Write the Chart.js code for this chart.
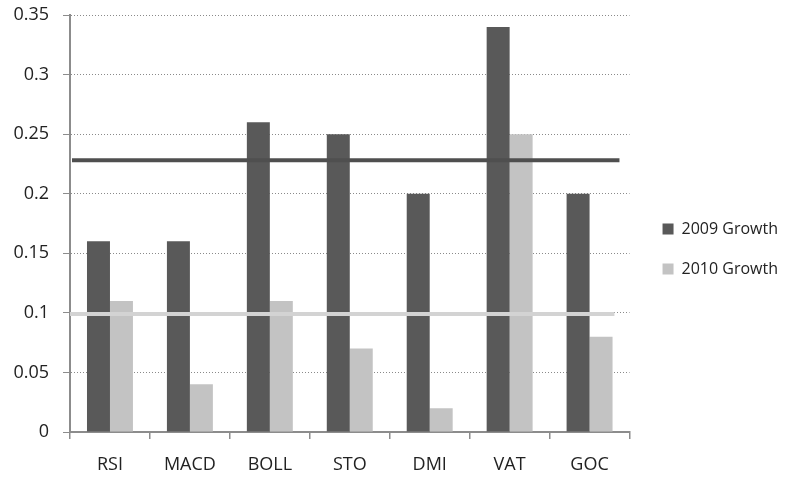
<!DOCTYPE html>
<html>
<head>
<meta charset="utf-8">
<script src="https://cdn.jsdelivr.net/npm/chart.js@4/dist/chart.umd.min.js"></script>
<style>
  html, body { margin: 0; padding: 0; background: #fff; }
  #wrap { width: 796px; height: 479px; }
</style>
</head>
<body>
<div id="wrap"><canvas id="chart" width="796" height="479"></canvas></div>
<script>
// Categories and series
var categories = ['RSI', 'MACD', 'BOLL', 'STO', 'DMI', 'VAT', 'GOC'];
var growth2009 = [0.16, 0.16, 0.26, 0.25, 0.20, 0.34, 0.20];
var growth2010 = [0.11, 0.04, 0.11, 0.07, 0.02, 0.25, 0.08];

// Horizontal reference levels (2009, 2010)
var refValues = [0.228, 0.099];

var yTicks = [0, 0.05, 0.1, 0.15, 0.2, 0.25, 0.3, 0.35];

var darkGray = '#595959';
var lightGray = '#c3c3c3';
var axisGray = '#8c8c8c';
var fontFamily = '"Open Sans", "Noto Sans", sans-serif';

/**
 * Draw the two horizontal level lines through the y scale
 */
var refLinePlugin = {
    id: 'refLines',
    afterDatasetsDraw: function(chart) {
        var ctx = chart.ctx;
        var area = chart.chartArea;
        var y = chart.scales.y;
        var styles = [
            { color: '#4f4f4f', start: 2, end: 0.982 },
            { color: '#d3d3d3', start: 0, end: 0.973 }
        ];
        ctx.save();
        refValues.forEach(function(v, i) {
            var py = y.getPixelForValue(v);
            var s = styles[i];
            ctx.strokeStyle = s.color;
            ctx.lineWidth = 4;
            ctx.beginPath();
            ctx.moveTo(area.left + s.start, py);
            ctx.lineTo(area.left + (area.right - area.left) * s.end, py);
            ctx.stroke();
        });
        ctx.restore();
    }
};

/**
 * Nudge the legend box a little right and down
 */
var legendShiftPlugin = {
    id: 'legendShift',
    afterLayout: function(chart) {
        var lg = chart.legend;
        if (!lg) return;
        lg.left += 9;
        lg.right += 9;
        lg.top += 2;
        lg.bottom += 2;
    }
};

new Chart(document.getElementById('chart'), {
    type: 'bar',
    data: {
        labels: categories,
        datasets: [{
            label: '2009 Growth',
            data: growth2009,
            backgroundColor: darkGray,
            borderWidth: 0,
            categoryPercentage: 0.575,
            barPercentage: 1
        }, {
            label: '2010 Growth',
            data: growth2010,
            backgroundColor: lightGray,
            borderWidth: 0,
            categoryPercentage: 0.575,
            barPercentage: 1
        }]
    },
    plugins: [refLinePlugin, legendShiftPlugin],
    options: {
        responsive: false,
        animation: false,
        layout: {
            padding: { top: 15, right: 17, bottom: 0, left: 0 }
        },
        plugins: {
            tooltip: { enabled: false },
            legend: {
                position: 'right',
                align: 'center',
                labels: {
                    color: '#222',
                    boxWidth: 11,
                    boxHeight: 11,
                    padding: 24,
                    font: { family: fontFamily, size: 16 }
                }
            }
        },
        scales: {
            x: {
                offset: true,
                afterFit: function(axis) {
                    axis.height = 47;
                },
                grid: {
                    offset: true,
                    drawOnChartArea: false,
                    drawTicks: true,
                    tickLength: 7,
                    color: axisGray,
                    lineWidth: 1.5
                },
                border: { color: axisGray, width: 2 },
                ticks: {
                    color: '#222',
                    padding: 15,
                    font: { family: fontFamily, size: 18 }
                }
            },
            y: {
                min: 0,
                max: 0.35,
                afterBuildTicks: function(axis) {
                    axis.ticks = yTicks.map(function(v) { return { value: v }; });
                },
                afterFit: function(axis) {
                    axis.width = 70;
                    axis.paddingTop = 0;
                },
                grid: {
                    color: '#8a8a8a',
                    lineWidth: 1,
                    tickBorderDash: [],
                    tickColor: axisGray,
                    tickLength: 7
                },
                border: { color: axisGray, width: 2, dash: [1, 2] },
                ticks: {
                    color: '#222',
                    padding: 14,
                    font: { family: fontFamily, size: 18 },
                    callback: function(v) { return String(v); }
                }
            }
        }
    }
});
</script>
</body>
</html>
